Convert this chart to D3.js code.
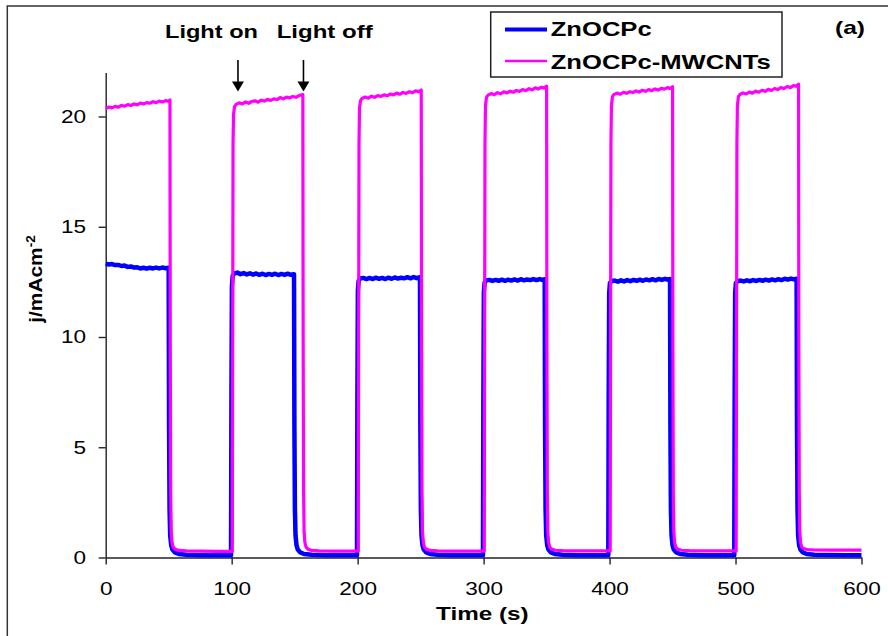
<!DOCTYPE html>
<html>
<head>
<meta charset="utf-8">
<script src="https://cdn.jsdelivr.net/npm/d3@7"></script>
<style>
  html, body { margin: 0; padding: 0; background: #fff; }
  svg { display: block; }
  text { font-family: "Liberation Sans", Arial, sans-serif; fill: #000; }
</style>
</head>
<body>
<svg id="chart" width="888" height="636"></svg>
<script>
// Chopped-light photocurrent response, j (mA cm^-2) versus time (s)
const seriesNames = ["ZnOCPc", "ZnOCPc-MWCNTs"];
const seriesColors = ["#0000ff", "#ff00ff"];

const timeTicks = [0, 100, 200, 300, 400, 500, 600];
const jTicks = [0, 5, 10, 15, 20];

// light switching annotations (time in s)
const annotationLabels = ["Light on", "Light off"];
const annotationTimes = [105, 157];

// ZnOCPc trace: [time s, j mA cm^-2]
const znocpc = [
  [0,13.32],[2.5,13.29],[5,13.31],[7.5,13.26],[10,13.27],[12.5,13.22],[15,13.24],[17.5,13.18],[20,13.2],[22.5,13.15],
  [25,13.16],[27.5,13.11],[30,13.14],[32.5,13.1],[35,13.14],[37.5,13.11],[40,13.15],[42.5,13.11],[45,13.15],[47.5,13.12],[50,13.14],
  [50.3,6.0],[50.7,2.2],[51.2,1.0],[52,0.55],[53,0.36],[55,0.23],[58,0.16],[64,0.12],[75,0.1],[87,0.1],[99.5,0.1],
  [99.8,7.0],[100.2,12.3],[100.8,12.78],[102,12.88],[104.5,12.92],[107,12.85],[109.5,12.9],[112,12.84],[114.5,12.89],[117,12.83],
  [119.5,12.88],[122,12.82],[124.5,12.87],[127,12.81],[129.5,12.86],[132,12.82],[134.5,12.87],[137,12.81],[139.5,12.86],[142,12.82],
  [144.5,12.87],[147,12.82],[149.5,12.85],
  [149.8,6.0],[150.2,2.2],[150.7,1.0],[151.5,0.55],[152.5,0.36],[154.5,0.23],[157.5,0.16],[163.5,0.12],[175,0.1],[187,0.1],[199.5,0.1],
  [199.8,7.0],[200.2,12.1],[200.8,12.55],[202,12.65],[204.5,12.68],[207,12.63],[209.5,12.68],[212,12.63],[214.5,12.69],[217,12.64],
  [219.5,12.68],[222,12.63],[224.5,12.69],[227,12.64],[229.5,12.7],[232,12.65],[234.5,12.69],[237,12.66],[239.5,12.71],[242,12.66],
  [244.5,12.72],[247,12.67],[249.5,12.71],
  [249.8,6.0],[250.2,2.2],[250.7,1.0],[251.5,0.55],[252.5,0.36],[254.5,0.23],[257.5,0.16],[263.5,0.12],[275,0.1],[287,0.1],[299.5,0.1],
  [299.8,7.0],[300.2,12.0],[300.8,12.47],[302,12.56],[304.5,12.59],[307,12.54],[309.5,12.59],[312,12.55],[314.5,12.6],[317,12.55],
  [319.5,12.6],[322,12.56],[324.5,12.61],[327,12.56],[329.5,12.62],[332,12.57],[334.5,12.61],[337,12.58],[339.5,12.63],[342,12.58],
  [344.5,12.63],[346.5,12.59],[348.5,12.62],
  [348.8,6.0],[349.2,2.2],[349.7,1.0],[350.5,0.55],[351.5,0.36],[353.5,0.23],[356.5,0.16],[362.5,0.12],[374,0.1],[386,0.1],[399,0.1],
  [399.3,7.0],[399.7,12.0],[400.3,12.45],[401.5,12.53],[404,12.56],[406.5,12.51],[409,12.57],[411.5,12.52],[414,12.58],[416.5,12.53],
  [419,12.59],[421.5,12.55],[424,12.6],[426.5,12.55],[429,12.61],[431.5,12.57],[434,12.62],[436.5,12.57],[439,12.63],[441.5,12.59],
  [444,12.64],[446,12.6],[448,12.63],
  [448.3,6.0],[448.7,2.2],[449.2,1.0],[450,0.55],[451,0.36],[453,0.23],[456,0.16],[462,0.12],[473,0.1],[486,0.1],[499,0.1],
  [499.3,7.0],[499.7,12.0],[500.3,12.45],[501.5,12.53],[504,12.56],[506.5,12.52],[509,12.57],[511.5,12.53],[514,12.58],[516.5,12.54],
  [519,12.59],[521.5,12.55],[524,12.6],[526.5,12.56],[529,12.61],[531.5,12.57],[534,12.62],[536.5,12.58],[539,12.64],[541.5,12.6],
  [544,12.65],[546.5,12.61],[548.5,12.64],
  [548.8,6.0],[549.2,2.2],[549.7,1.0],[550.5,0.55],[551.5,0.36],[553.5,0.23],[556.5,0.16],[562.5,0.12],[574,0.11],[587,0.1],[600,0.1]
];

// ZnOCPc-MWCNTs trace: [time s, j mA cm^-2]
const znocpcMwcnts = [
  [0,20.36],[2.5,20.43],[5,20.39],[7.5,20.46],[10,20.42],[12.5,20.5],[15,20.47],[17.5,20.54],[20,20.5],[22.5,20.57],[25,20.53],
  [27.5,20.61],[30,20.57],[32.5,20.63],[35,20.6],[37.5,20.67],[40,20.63],[42.5,20.7],[45,20.66],[47.5,20.72],[49.5,20.69],[51,20.75],
  [51.25,10],[51.6,3],[52,1.2],[52.6,0.7],[53.5,0.48],[55,0.38],[58,0.32],[64,0.3],[76,0.29],[88,0.28],[100.5,0.28],
  [100.8,10],[101.1,18.8],[101.5,20.1],[102.3,20.45],[103.5,20.55],[106,20.62],[108.5,20.57],[111,20.66],[113.5,20.6],[116,20.68],
  [118.5,20.71],[121,20.65],[123.5,20.74],[126,20.7],[128.5,20.78],[131,20.73],[133.5,20.8],[136,20.77],[138.5,20.86],[141,20.8],
  [143.5,20.88],[146,20.84],[148.5,20.91],[151,20.87],[153.5,20.95],[156.5,20.99],
  [156.75,10],[157.1,3],[157.5,1.2],[158.1,0.7],[159,0.48],[160.5,0.38],[163.5,0.32],[169.5,0.3],[180,0.29],[190,0.29],[200.5,0.29],
  [200.8,10],[201.1,18.8],[201.5,20.4],[202.3,20.72],[203.5,20.82],[206,20.88],[208.5,20.83],[211,20.92],[213.5,20.87],[216,20.95],
  [218.5,20.91],[221,20.98],[223.5,20.94],[226,21.02],[228.5,20.98],[231,21.06],[233.5,21.01],[236,21.09],[238.5,21.05],[241,21.12],
  [243.5,21.08],[246,21.16],[248.5,21.13],[250.5,21.2],
  [250.75,10],[251.1,3],[251.5,1.2],[252.1,0.7],[253,0.48],[254.5,0.38],[257.5,0.32],[263.5,0.3],[275,0.29],[288,0.29],[300.5,0.29],
  [300.8,10],[301.1,18.8],[301.5,20.5],[302.3,20.87],[303.5,20.97],[306,21.04],[308.5,20.99],[311,21.08],[313.5,21.03],[316,21.12],
  [318.5,21.07],[321,21.15],[323.5,21.1],[326,21.18],[328.5,21.14],[331,21.22],[333.5,21.17],[336,21.26],[338.5,21.21],[341,21.3],
  [343.5,21.25],[346,21.33],[348,21.29],[350,21.38],
  [350.25,10],[350.6,3],[351,1.2],[351.6,0.7],[352.5,0.48],[354,0.38],[357,0.33],[363,0.31],[375,0.3],[388,0.3],[400.5,0.3],
  [400.8,10],[401.1,18.8],[401.5,20.5],[402.3,20.9],[403.5,21.0],[406,21.06],[408.5,21.01],[411,21.1],[413.5,21.05],[416,21.12],
  [418.5,21.09],[421,21.16],[423.5,21.11],[426,21.19],[428.5,21.14],[431,21.22],[433.5,21.17],[436,21.25],[438.5,21.2],[441,21.28],
  [443.5,21.24],[446,21.31],[448,21.27],[450,21.35],
  [450.25,10],[450.6,3],[451,1.2],[451.6,0.7],[452.5,0.48],[454,0.38],[457,0.33],[463,0.31],[475,0.3],[488,0.3],[500.5,0.3],
  [500.8,10],[501.1,18.8],[501.5,20.5],[502.3,20.9],[503.5,21.0],[506,21.07],[508.5,21.02],[511,21.11],[513.5,21.06],[516,21.15],
  [518.5,21.1],[521,21.19],[523.5,21.14],[526,21.23],[528.5,21.18],[531,21.27],[533.5,21.22],[536,21.31],[538.5,21.27],[541,21.36],
  [543.5,21.31],[546,21.4],[548,21.37],[550,21.47],
  [550.25,10],[550.6,3],[551,1.2],[551.6,0.7],[552.5,0.48],[554,0.4],[557,0.36],[563,0.34],[575,0.33],[588,0.33],[600,0.33]
];

const seriesData = [znocpc, znocpcMwcnts];
const seriesWidths = [4.5, 3.2];

const svg = d3.select("#chart");
svg.append("rect").attr("width", 888).attr("height", 636).attr("fill", "#fff");

// outer frame (only its top and left edges fall inside the view)
svg.append("path")
  .attr("d", "M7.3,640 V6 H892")
  .attr("fill", "none").attr("stroke", "#333").attr("stroke-width", 1.5);

const x = d3.scaleLinear().domain([0, 600]).range([105.7, 861.5]);
const y = d3.scaleLinear().domain([0, 22]).range([557.5, 72.4]);
const stretch = 1.22;

// axes
const gx = svg.append("g").attr("transform", `translate(0,${y(0)})`)
  .call(d3.axisBottom(x).tickValues(timeTicks).tickSize(7).tickSizeOuter(0).tickPadding(17.5));
const gy = svg.append("g").attr("transform", `translate(${x(0)},0)`)
  .call(d3.axisLeft(y).tickValues(jTicks).tickSize(7).tickSizeOuter(0));

[gx, gy].forEach(g => {
  g.select(".domain").attr("stroke", "#222").attr("stroke-width", 1.4);
  g.selectAll(".tick line").attr("stroke", "#222").attr("stroke-width", 1.4);
  g.selectAll(".tick text")
    .attr("fill", "#000")
    .style("font-size", "18.5px")
    .style("font-family", "'Liberation Sans', Arial, sans-serif");
});
gx.selectAll(".tick text").attr("transform", `scale(${stretch},1)`);
gy.selectAll(".tick text").attr("x", -19.7 / stretch).attr("transform", `scale(${stretch},1)`);

// traces
const line = d3.line().x(d => x(d[0])).y(d => y(d[1])).curve(d3.curveLinear);
seriesData.forEach((data, i) => {
  svg.append("path")
    .datum(data)
    .attr("d", line)
    .attr("fill", "none")
    .attr("stroke", seriesColors[i])
    .attr("stroke-width", seriesWidths[i])
    .attr("stroke-linejoin", "round")
    .attr("stroke-linecap", "butt");
});

// axis titles
svg.append("text")
  .attr("x", 436).attr("y", 620)
  .attr("textLength", 92.7).attr("lengthAdjust", "spacingAndGlyphs")
  .style("font-size", "18.5px").style("font-weight", "bold")
  .text("Time (s)");

const yTitle = svg.append("text")
  .attr("transform", `translate(42,279) rotate(-90) scale(1.13,1)`)
  .attr("text-anchor", "middle")
  .style("font-size", "18.5px").style("font-weight", "bold");
yTitle.append("tspan").text("j/mAcm");
yTitle.append("tspan").attr("dy", -7).style("font-size", "12px").text("-2");

// light on / off annotations
const annLayout = [{ lx: 165, w: 93 }, { lx: 276.7, w: 96 }];
annotationLabels.forEach((label, i) => {
  svg.append("text")
    .attr("x", annLayout[i].lx).attr("y", 38.3)
    .attr("textLength", annLayout[i].w).attr("lengthAdjust", "spacingAndGlyphs")
    .style("font-size", "18.6px").style("font-weight", "bold")
    .text(label);
  const ax = x(annotationTimes[i]);
  svg.append("line")
    .attr("x1", ax).attr("x2", ax).attr("y1", 60).attr("y2", 83)
    .attr("stroke", "#000").attr("stroke-width", 1.6);
  svg.append("path")
    .attr("d", `M${ax - 6},81.5 L${ax + 6},81.5 L${ax},91.5 Z`)
    .attr("fill", "#000");
});

// panel label
svg.append("text")
  .attr("x", 835).attr("y", 33.5)
  .attr("textLength", 30).attr("lengthAdjust", "spacingAndGlyphs")
  .style("font-size", "18.5px").style("font-weight", "bold")
  .text("(a)");

// legend
const legend = svg.append("g");
legend.append("rect")
  .attr("x", 490.7).attr("y", 12).attr("width", 291.3).attr("height", 65)
  .attr("fill", "#fff").attr("stroke", "#222").attr("stroke-width", 1.5);
const legendRows = [{ ly: 29.5, base: 36, w: 101 }, { ly: 61, base: 69, w: 220 }];
seriesNames.forEach((name, i) => {
  legend.append("line")
    .attr("x1", 505).attr("x2", 547).attr("y1", legendRows[i].ly).attr("y2", legendRows[i].ly)
    .attr("stroke", seriesColors[i]).attr("stroke-width", i === 0 ? 4 : 2.6);
  legend.append("text")
    .attr("x", 550.7).attr("y", legendRows[i].base)
    .attr("textLength", legendRows[i].w).attr("lengthAdjust", "spacingAndGlyphs")
    .style("font-size", "21px").style("font-weight", "bold")
    .text(name);
});
</script>
</body>
</html>
